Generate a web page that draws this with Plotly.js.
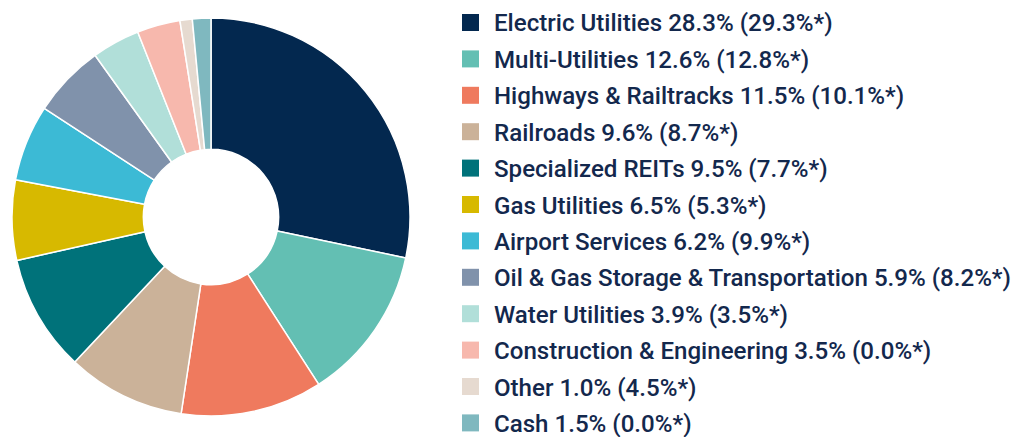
<!DOCTYPE html>
<html>
<head>
<meta charset="utf-8">
<script src="https://cdn.plot.ly/plotly-3.0.1.min.js"></script>
<style>html,body{margin:0;padding:0;background:#fff;}#chart{width:1017px;height:437px;}</style>
</head>
<body>
<div id="chart"></div>
<script>
const categories = ["Electric Utilities","Multi-Utilities","Highways & Railtracks","Railroads","Specialized REITs","Gas Utilities","Airport Services","Oil & Gas Storage & Transportation","Water Utilities","Construction & Engineering","Other","Cash"];
const fundValues = [28.3,12.6,11.5,9.6,9.5,6.5,6.2,5.9,3.9,3.5,1.0,1.5];
const benchmarkValues = [29.3,12.8,10.1,8.7,7.7,5.3,9.9,8.2,3.5,0.0,4.5,0.0];
const colors = ["#03284f","#63bfb3","#ef7a5e","#cbb299","#00727a","#d7b900","#3cbad5","#8092ab","#b1dfd9","#f7b8ad","#e6dad0","#7fb8bf"];

const W = 1017, H = 437;
const textColor = "#13284d";
const fontFam = "Roboto, 'Liberation Sans', sans-serif";

const trace = {
  type: "pie",
  labels: categories,
  values: fundValues,
  sort: false,
  direction: "clockwise",
  rotation: 0,
  hole: 0.34,
  marker: {colors: colors, line: {color: "#ffffff", width: 1.5}},
  textinfo: "none",
  hoverinfo: "label+value",
  showlegend: false,
  domain: {x: [12/W, 410/W], y: [1 - 416/H, 1 - 18/H]}
};

const shapes = [], annotations = [];
const rowTop = 22.5, rowGap = 36.4, sq = 17;
categories.forEach((c, i) => {
  const cy = rowTop + rowGap * i;
  shapes.push({type: "rect", xref: "paper", yref: "paper",
    x0: 462/W, x1: (462+sq)/W, y0: 1 - (cy + sq/2)/H, y1: 1 - (cy - sq/2)/H,
    fillcolor: colors[i], line: {width: 0}});
  annotations.push({xref: "paper", yref: "paper", x: 492/W, y: 1 - (cy + 1)/H,
    xanchor: "left", yanchor: "middle", showarrow: false,
    text: c + " " + fundValues[i].toFixed(1) + "% (" + benchmarkValues[i].toFixed(1) + "%*)",
    font: {family: fontFam, size: 24.1, color: textColor, weight: 500}});
});

const layout = {
  width: W, height: H,
  margin: {l: 0, r: 0, t: 0, b: 0},
  paper_bgcolor: "#ffffff",
  shapes: shapes,
  annotations: annotations,
  showlegend: false
};

Plotly.newPlot("chart", [trace], layout, {displayModeBar: false, staticPlot: true});
</script>
</body>
</html>
